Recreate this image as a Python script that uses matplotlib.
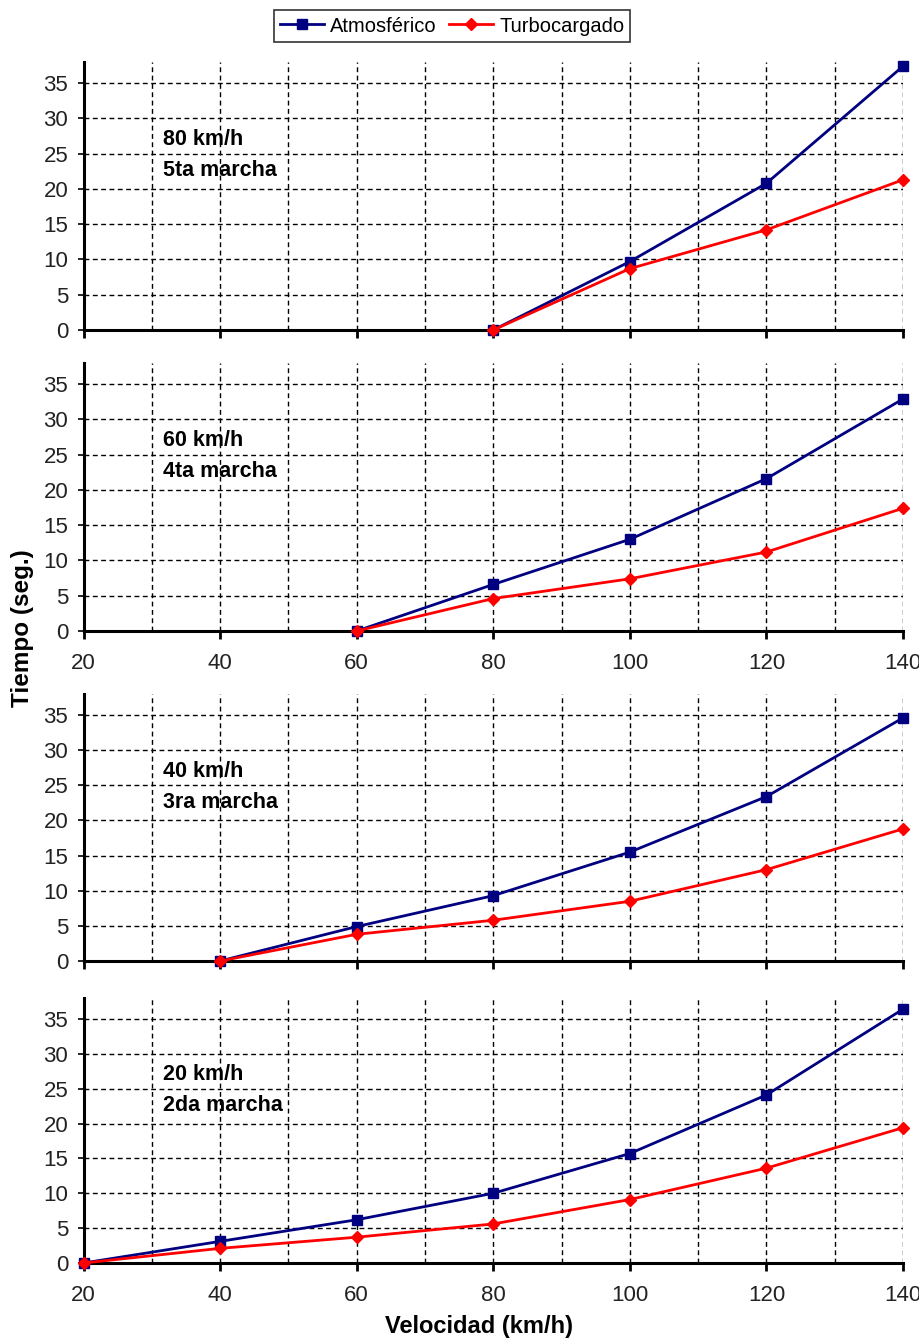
import matplotlib
matplotlib.use("Agg")
import matplotlib.pyplot as plt
from matplotlib.ticker import MultipleLocator
from matplotlib.lines import Line2D

plt.rcParams['font.family'] = ['Liberation Sans', 'DejaVu Sans']

# Velocidad (km/h) y tiempo (s) para cada marcha
vel_5ta = [80, 100, 120, 140]
atm_5ta = [0, 9.7, 20.8, 37.4]
turbo_5ta = [0, 8.7, 14.2, 21.3]

vel_4ta = [60, 80, 100, 120, 140]
atm_4ta = [0, 6.6, 13.0, 21.6, 32.9]
turbo_4ta = [0, 4.6, 7.4, 11.2, 17.4]

vel_3ra = [40, 60, 80, 100, 120, 140]
atm_3ra = [0, 4.9, 9.3, 15.5, 23.4, 34.6]
turbo_3ra = [0, 3.8, 5.8, 8.5, 13.0, 18.8]

vel_2da = [20, 40, 60, 80, 100, 120, 140]
atm_2da = [0, 3.1, 6.2, 10.0, 15.7, 24.1, 36.4]
turbo_2da = [0, 2.1, 3.7, 5.6, 9.1, 13.6, 19.4]

panel_titles = [("80 km/h", "5ta marcha"),
                ("60 km/h", "4ta marcha"),
                ("40 km/h", "3ra marcha"),
                ("20 km/h", "2da marcha")]
series_names = ["Atmosférico", "Turbocargado"]
x_ticks = [20, 40, 60, 80, 100, 120, 140]
y_ticks = [0, 5, 10, 15, 20, 25, 30, 35]

panels = [(vel_5ta, atm_5ta, turbo_5ta),
          (vel_4ta, atm_4ta, turbo_4ta),
          (vel_3ra, atm_3ra, turbo_3ra),
          (vel_2da, atm_2da, turbo_2da)]

NAVY = "#000080"
RED = "#FF0000"

fig = plt.figure(figsize=(9.19, 13.40), dpi=100)
W, H = 919, 1340
left_px, right_px = 83.5, 903
# (top, bottom) of each plot area in pixels
rows = [(62, 330), (363, 631), (694, 961), (998, 1263)]
show_xlabels = [False, True, False, True]

for ax_i, ((top, bot), (vel, atm, turbo), (t1, t2), showx) in enumerate(
        zip(rows, panels, panel_titles, show_xlabels)):
    ax = fig.add_axes([left_px / W, 1 - bot / H,
                       (right_px - left_px) / W, (bot - top) / H])
    ax.set_xlim(20, 140)
    ax.set_ylim(0, 38)
    ax.xaxis.set_major_locator(MultipleLocator(20))
    ax.xaxis.set_minor_locator(MultipleLocator(10))
    ax.set_yticks(y_ticks)
    ax.grid(True, which='both', axis='x', color='black', linestyle=(0, (3.5, 2.5)),
            linewidth=1.0)
    ax.grid(True, which='major', axis='y', color='black', linestyle=(0, (3.5, 2.5)),
            linewidth=1.0)
    ax.set_axisbelow(True)
    for s in ('top', 'right'):
        ax.spines[s].set_visible(False)
    for s in ('left', 'bottom'):
        ax.spines[s].set_linewidth(2.2)
        ax.spines[s].set_color('black')
    ax.tick_params(axis='x', which='major', direction='out', length=6, width=2,
                   labelsize=16, pad=10, labelbottom=showx)
    ax.tick_params(axis='x', which='minor', length=0)
    ax.tick_params(axis='y', which='major', direction='out', length=4, width=1.2,
                   labelsize=16, pad=7)
    ax.set_xticks(x_ticks)
    for lbl in ax.get_xticklabels() + ax.get_yticklabels():
        lbl.set_color('#222222')

    ax.plot(vel, atm, color=NAVY, linewidth=2, marker='s', markersize=7.5,
            clip_on=False, zorder=4)
    ax.plot(vel, turbo, color=RED, linewidth=2, marker='D', markersize=6.5,
            clip_on=False, zorder=5)

    ax.text(0.097, 0.71, t1, transform=ax.transAxes, fontsize=15.5,
            fontweight='bold', va='center', ha='left')
    ax.text(0.097, 0.595, t2, transform=ax.transAxes, fontsize=15.5,
            fontweight='bold', va='center', ha='left')

fig.text(23 / W, 1 - 628 / H, "Tiempo (seg.)", rotation=90, fontsize=17.5,
         fontweight='bold', ha='center', va='center')
fig.text(479 / W, 1 - 1326 / H, "Velocidad (km/h)", fontsize=17,
         fontweight='bold', ha='center', va='center')

handles = [Line2D([], [], color=NAVY, linewidth=2, marker='s', markersize=7.5),
           Line2D([], [], color=RED, linewidth=2, marker='D', markersize=6.5)]
leg = fig.legend(handles, series_names, loc='center',
                 bbox_to_anchor=(452 / W, 1 - 26 / H), ncol=2, fontsize=14.5,
                 frameon=True, fancybox=False, edgecolor='black',
                 handlelength=2.2, handletextpad=0.3, columnspacing=0.6,
                 borderpad=0.3)
leg.get_frame().set_linewidth(1.2)

fig.savefig("out.png", dpi=100, facecolor='white')
